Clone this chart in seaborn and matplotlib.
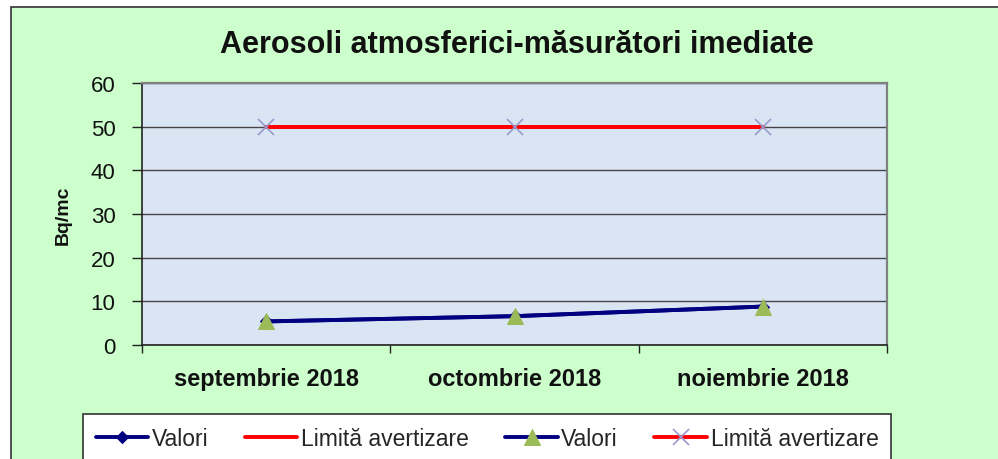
import matplotlib
matplotlib.use("Agg")
import matplotlib.pyplot as plt
import seaborn as sns
import pandas as pd
from matplotlib.patches import Rectangle

categories = ["septembrie 2018", "octombrie 2018", "noiembrie 2018"]
valori = [5.4, 6.6, 8.8]
limita = [50, 50, 50]
yticks = [0, 10, 20, 30, 40, 50, 60]
title = "Aerosoli atmosferici-măsurători imediate"
ylabel = "Bq/mc"

sns.set_theme(style="white")
plt.rcParams['font.family'] = ['Liberation Sans', 'DejaVu Sans']

W, H = 998, 460
fig = plt.figure(figsize=(W / 100, H / 100), dpi=100)
fig.patch.set_facecolor("white")
bg = Rectangle((11 / W, -0.1), 1.2, 1 - 8 / H + 0.1, transform=fig.transFigure,
               facecolor="#CCFFCC", edgecolor="#333333", linewidth=1.2, zorder=-10)
fig.patches.append(bg)

ax = fig.add_axes([142 / W, 1 - 346 / H, (887 - 142) / W, (346 - 84) / H])
ax.set_facecolor("#DAE5F4")

x = list(range(len(categories)))
df = pd.DataFrame({"x": x, "valori": valori, "limita": limita})

sns.lineplot(data=df, x="x", y="valori", ax=ax, color="#000080", linewidth=2.8,
             marker="D", markersize=6, markeredgecolor="#000080", label="Valori", zorder=3)
sns.lineplot(data=df, x="x", y="limita", ax=ax, color="#FF0000", linewidth=2.8,
             label="Limită avertizare", zorder=3)
sns.lineplot(data=df, x="x", y="valori", ax=ax, color="#000080", linewidth=2.8,
             marker="^", markersize=12, markerfacecolor="#9BBB59", markeredgecolor="#9BBB59",
             label="Valori", zorder=4)
sns.lineplot(data=df, x="x", y="limita", ax=ax, color="#FF0000", linewidth=2.8,
             marker="x", markersize=12, markeredgecolor="#9999CC", markeredgewidth=1.2,
             label="Limită avertizare", zorder=4)

ax.set_xlim(-0.5, len(categories) - 0.5)
ax.set_ylim(0, 60)
ax.set_yticks(yticks)
ax.set_yticklabels([str(v) for v in yticks], fontsize=16, color="#111111")
ax.yaxis.grid(True, color="#444444", linewidth=1)
ax.set_axisbelow(True)

ax.set_xticks([i - 0.5 for i in range(len(categories) + 1)])
ax.set_xticklabels([])
ax.set_xticks(x, minor=True)
ax.set_xticklabels(categories, minor=True, fontsize=17, fontweight="bold", color="#111111")
ax.tick_params(axis="x", which="major", direction="out", length=6, width=1, color="#222222", bottom=True)
ax.tick_params(axis="x", which="minor", length=0, pad=16)
ax.tick_params(axis="y", direction="out", length=7, width=1, color="#222222", left=True, pad=12)
ax.set_xlabel("")
ax.set_ylabel(ylabel, fontsize=14, fontweight="bold", labelpad=14, color="#111111")

for side in ["top", "right"]:
    ax.spines[side].set_color("#808080")
    ax.spines[side].set_linewidth(1.6)
for side in ["left", "bottom"]:
    ax.spines[side].set_color("#222222")
    ax.spines[side].set_linewidth(1.2)

fig.text((205 + 828) / 2 / W, 1 - 45 / H, title, ha="center", va="center",
         fontsize=22, fontweight="bold", color="#111111")

ax.get_legend().remove()
handles, labels = ax.get_legend_handles_labels()
leg = fig.legend(handles, labels, loc="upper left",
                 bbox_to_anchor=(83 / W, 1 - 415 / H, (891 - 83) / W, 0.0),
                 mode="expand", ncol=4, fontsize=16.5, frameon=True, fancybox=False,
                 handlelength=2.3, handletextpad=0.15, columnspacing=0.8, borderpad=0.55,
                 borderaxespad=0)
leg.get_frame().set_facecolor("white")
leg.get_frame().set_edgecolor("#333333")
leg.get_frame().set_linewidth(1.2)
leg.get_frame().set_alpha(1)

fig.savefig("out.png", dpi=100, facecolor=fig.get_facecolor())
